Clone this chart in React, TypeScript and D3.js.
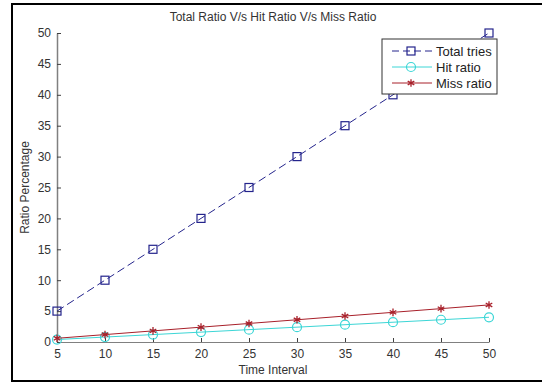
import { useEffect, useRef } from "react"
import * as d3 from "d3"

const timeIntervals = [5, 10, 15, 20, 25, 30, 35, 40, 45, 50]
const totalTries = [5, 10, 15, 20, 25, 30, 35, 40, 45, 50]
const hitRatio = [0.4, 0.8, 1.2, 1.6, 2.0, 2.4, 2.8, 3.2, 3.6, 4.0]
const missRatio = [0.6, 1.2, 1.8, 2.4, 3.0, 3.6, 4.2, 4.8, 5.4, 6.0]
const yTicks = [0, 5, 10, 15, 20, 25, 30, 35, 40, 45, 50]

const seriesNames = ["Total tries", "Hit ratio", "Miss ratio"]
const seriesColors = ["#24248c", "#3cd6d6", "#a8202a"]

export default function App() {
  const svgRef = useRef<SVGSVGElement>(null)

  useEffect(() => {
    if (!svgRef.current) return
    const W = 542
    const H = 384
    const margin = { top: 33, right: 53, bottom: 42, left: 57 }
    const font = "Arial, 'Liberation Sans', sans-serif"

    d3.select(svgRef.current).selectAll("*").remove()
    const root = d3.select(svgRef.current).attr("width", W).attr("height", H)

    root.append("rect").attr("width", W).attr("height", H).attr("fill", "#fff")
    // outer frame
    root
      .append("rect")
      .attr("x", 12)
      .attr("y", 4)
      .attr("width", W + 10)
      .attr("height", 377)
      .attr("fill", "none")
      .attr("stroke", "#000")
      .attr("stroke-width", 2)

    const width = W - margin.left - margin.right
    const height = H - margin.top - margin.bottom
    const svg = root.append("g").attr("transform", `translate(${margin.left},${margin.top})`)

    const x = d3.scaleLinear().domain([5, 50]).range([0, width])
    const y = d3.scaleLinear().domain([0, 50]).range([height, 0])

    // X axis (ticks inward)
    const xAxis = svg
      .append("g")
      .attr("transform", `translate(0,${height})`)
      .call(d3.axisBottom(x).tickValues(timeIntervals).tickSizeInner(-4).tickSizeOuter(0).tickPadding(7))
    xAxis.select(".domain").attr("stroke", "#808080")
    xAxis.selectAll(".tick line").attr("stroke", "#404040")
    xAxis.selectAll("text").attr("font-family", font).attr("font-size", 12).attr("fill", "#333")

    // Y axis
    const yAxis = svg
      .append("g")
      .call(d3.axisLeft(y).tickValues(yTicks).tickSizeInner(-4).tickSizeOuter(0).tickPadding(6))
    yAxis.select(".domain").attr("stroke", "#808080").attr("stroke-width", 1.5)
    yAxis.selectAll(".tick line").attr("stroke", "#404040")
    yAxis.selectAll("text").attr("font-family", font).attr("font-size", 12).attr("fill", "#333")

    // Title & labels
    svg
      .append("text")
      .attr("x", width / 2)
      .attr("y", -12)
      .attr("text-anchor", "middle")
      .attr("font-family", font)
      .attr("font-size", 12)
      .attr("fill", "#333")
      .text("Total Ratio V/s Hit Ratio V/s Miss Ratio")

    svg
      .append("text")
      .attr("x", width / 2)
      .attr("y", height + 32)
      .attr("text-anchor", "middle")
      .attr("font-family", font)
      .attr("font-size", 12)
      .attr("fill", "#333")
      .text("Time Interval")

    svg
      .append("text")
      .attr("transform", "rotate(-90)")
      .attr("x", -height / 2)
      .attr("y", -28)
      .attr("text-anchor", "middle")
      .attr("font-family", font)
      .attr("font-size", 12)
      .attr("fill", "#333")
      .text("Ratio Percentage")

    const allSeries = [totalTries, hitRatio, missRatio]
    const line = d3
      .line<number>()
      .x((_, i) => x(timeIntervals[i]))
      .y((d) => y(d))

    const drawMarker = (g: d3.Selection<SVGGElement, unknown, null, undefined>, k: number, cx: number, cy: number) => {
      const c = seriesColors[k]
      if (k === 0) {
        g.append("rect")
          .attr("x", cx - 4)
          .attr("y", cy - 4)
          .attr("width", 8)
          .attr("height", 8)
          .attr("fill", "none")
          .attr("stroke", c)
          .attr("stroke-width", 1.2)
      } else if (k === 1) {
        g.append("circle")
          .attr("cx", cx)
          .attr("cy", cy)
          .attr("r", 4.5)
          .attr("fill", "none")
          .attr("stroke", c)
          .attr("stroke-width", 1.2)
      } else {
        g.append("path")
          .attr("d", d3.symbol(d3.symbolAsterisk, 40)())
          .attr("transform", `translate(${cx},${cy})`)
          .attr("fill", "none")
          .attr("stroke", c)
          .attr("stroke-width", 1.3)
      }
    }

    allSeries.forEach((vals, k) => {
      svg
        .append("path")
        .datum(vals)
        .attr("d", line)
        .attr("fill", "none")
        .attr("stroke", seriesColors[k])
        .attr("stroke-width", 1)
        .attr("stroke-dasharray", k === 0 ? "8,4" : null)
      const mg = svg.append("g")
      vals.forEach((v, i) => drawMarker(mg, k, x(timeIntervals[i]), y(v)))
    })

    // Legend
    const legend = root.append("g").attr("transform", "translate(382,39)")
    legend
      .append("rect")
      .attr("width", 115)
      .attr("height", 55)
      .attr("fill", "#fff")
      .attr("stroke", "#333")
      .attr("stroke-width", 1)
    seriesNames.forEach((name, k) => {
      const ly = 12 + k * 16
      legend
        .append("line")
        .attr("x1", 10)
        .attr("x2", 50)
        .attr("y1", ly)
        .attr("y2", ly)
        .attr("stroke", seriesColors[k])
        .attr("stroke-width", 1)
        .attr("stroke-dasharray", k === 0 ? "7,4" : null)
      drawMarker(legend, k, 29, ly)
      legend
        .append("text")
        .attr("x", 54)
        .attr("y", ly + 4.5)
        .attr("font-family", font)
        .attr("font-size", 13)
        .attr("fill", "#222")
        .text(name)
    })
  }, [])

  return <svg ref={svgRef} style={{ position: "absolute", left: 0, top: 0 }} />
}
